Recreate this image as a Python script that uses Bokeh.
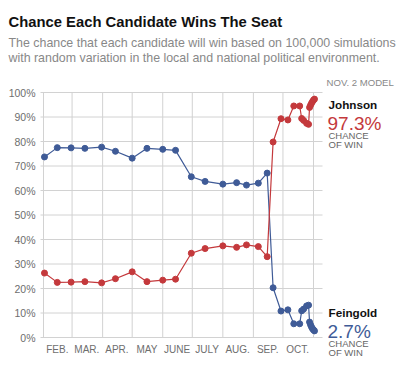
import pandas as pd
from bokeh.plotting import figure
from bokeh.models import Range1d
from bokeh.core.properties import value
from bokeh.embed import file_html
from bokeh.resources import INLINE

# ---- data ----
dates = ["2016-02-02", "2016-02-15", "2016-02-29", "2016-03-14", "2016-03-31",
         "2016-04-14", "2016-05-01", "2016-05-16", "2016-06-01", "2016-06-14",
         "2016-06-30", "2016-07-14", "2016-08-01", "2016-08-15", "2016-08-25",
         "2016-09-06", "2016-09-15", "2016-09-21", "2016-09-29", "2016-10-06",
         "2016-10-12", "2016-10-18", "2016-10-20", "2016-10-22", "2016-10-25",
         "2016-10-27", "2016-10-28", "2016-10-29", "2016-10-30", "2016-10-31",
         "2016-11-01", "2016-11-02"]
feingold = [73.7, 77.5, 77.4, 77.2, 77.7, 76.0, 73.2, 77.2, 76.8, 76.4,
            65.6, 63.7, 62.6, 63.2, 62.2, 63.0, 67.1, 20.3, 10.8, 11.3,
            5.6, 5.6, 10.9, 11.6, 12.9, 13.2, 6.3, 5.2, 4.3, 3.6,
            3.1, 2.7]
johnson = [26.3, 22.5, 22.6, 22.8, 22.3, 24.0, 26.8, 22.8, 23.4, 23.8,
           34.4, 36.3, 37.4, 36.8, 37.8, 37.1, 33.0, 79.8, 89.3, 88.8,
           94.5, 94.5, 89.4, 88.6, 87.4, 87.0, 93.9, 94.8, 95.6, 96.3,
           96.9, 97.3]
month_starts = ["2016-02-01", "2016-03-01", "2016-04-01", "2016-05-01", "2016-06-01",
                "2016-07-01", "2016-08-01", "2016-09-01", "2016-10-01", "2016-11-01"]
month_labels = ["FEB.", "MAR.", "APR.", "MAY", "JUNE", "JULY", "AUG.", "SEP.", "OCT."]
y_ticks = [0, 10, 20, 30, 40, 50, 60, 70, 80, 90, 100]

title = "Chance Each Candidate Wins The Seat"
subtitle = ["The chance that each candidate will win based on 100,000 simulations",
            "with random variation in the local and national political environment."]
model_note = "NOV. 2 MODEL"

RED = "#c4393c"
BLUE = "#3f5b97"
GRAY = "#666666"
FONT = value("Liberation Sans")

base = pd.Timestamp("2016-01-01")
x = [(pd.Timestamp(d) - base).days for d in dates]
ms = [(pd.Timestamp(d) - base).days for d in month_starts]
mids = [(ms[i] + ms[i + 1]) / 2 - 0.5 for i in range(len(month_labels))]

# ---- layout: the frame fills the whole canvas; canvas pixel -> data helpers ----
W, H = 405, 372
PX_DAY = 270 / (ms[-1] - ms[0])       # pixels per day
PX_PCT = 2.45                          # pixels per percentage point
X0 = ms[0] - 43 / PX_DAY               # data x at canvas pixel 0
Y0 = 100 + 92 / PX_PCT                 # data y at canvas pixel 0


def px(pxl):
    return X0 + pxl / PX_DAY


def py(pyl):
    return Y0 - pyl / PX_PCT


p = figure(width=W, height=H, output_backend="svg", toolbar_location=None,
           x_range=Range1d(X0, px(W)), y_range=Range1d(py(H), Y0),
           x_axis_location=None, y_axis_location=None,
           min_border=0, min_border_left=0, min_border_right=0,
           min_border_top=0, min_border_bottom=0)
p.outline_line_color = None
p.background_fill_color = "white"
p.border_fill_color = "white"
p.grid.visible = False

GRID = "#d2d2d2"
# horizontal grid lines (percent ticks)
p.segment(x0=[px(40)] * len(y_ticks), x1=[px(322)] * len(y_ticks),
          y0=y_ticks, y1=y_ticks, line_color=GRID, line_width=1)
# vertical grid lines (month starts)
p.segment(x0=ms, x1=ms, y0=[y_ticks[0]] * len(ms), y1=[y_ticks[-1]] * len(ms),
          line_color=GRID, line_width=1)

# tick labels
p.text(x=[px(35)] * len(y_ticks), y=y_ticks, text=[f"{t}%" for t in y_ticks],
       text_align="right", text_baseline="middle", text_font=FONT,
       text_font_size="10.5px", text_color="#6e6e6e")
p.text(x=mids, y=[py(349)] * len(mids), text=month_labels,
       text_align="center", text_baseline="alphabetic", text_font=FONT,
       text_font_size="10px", text_color="#6e6e6e")

# series
p.line(x, feingold, line_color=BLUE, line_width=1.2)
p.scatter(x, feingold, size=6, fill_color=BLUE, line_color=BLUE)
p.line(x, johnson, line_color=RED, line_width=1.2)
p.scatter(x, johnson, size=6, fill_color=RED, line_color=RED)


def lab(text, x_px, y_px, size, color, style="normal"):
    p.text(x=[px(x_px)], y=[py(y_px)], text=[text], text_font=FONT,
           text_font_size=size, text_color=color, text_font_style=style,
           text_baseline="alphabetic", text_align="left")


# titles
lab(title, 8, 21, "14.8px", "#111111", "bold")
lab(subtitle[0], 8, 42, "12.4px", "#888888")
lab(subtitle[1], 8, 57, "12.4px", "#888888")
lab(model_note, 326, 82, "9.6px", "#888888")

# right-hand annotations
lab("Johnson", 328, 104, "11.7px", "#111111", "bold")
lab(f"{johnson[-1]}%", 327, 123, "19px", RED)
lab("CHANCE", 328, 135, "9.5px", GRAY)
lab("OF WIN", 328, 144, "9.5px", GRAY)

lab("Feingold", 328, 312, "11.7px", "#111111", "bold")
lab(f"{feingold[-1]}%", 327, 331, "19px", BLUE)
lab("CHANCE", 328, 343, "9.5px", GRAY)
lab("OF WIN", 328, 352, "9.5px", GRAY)

open("out.html", "w").write(file_html(p, INLINE))
